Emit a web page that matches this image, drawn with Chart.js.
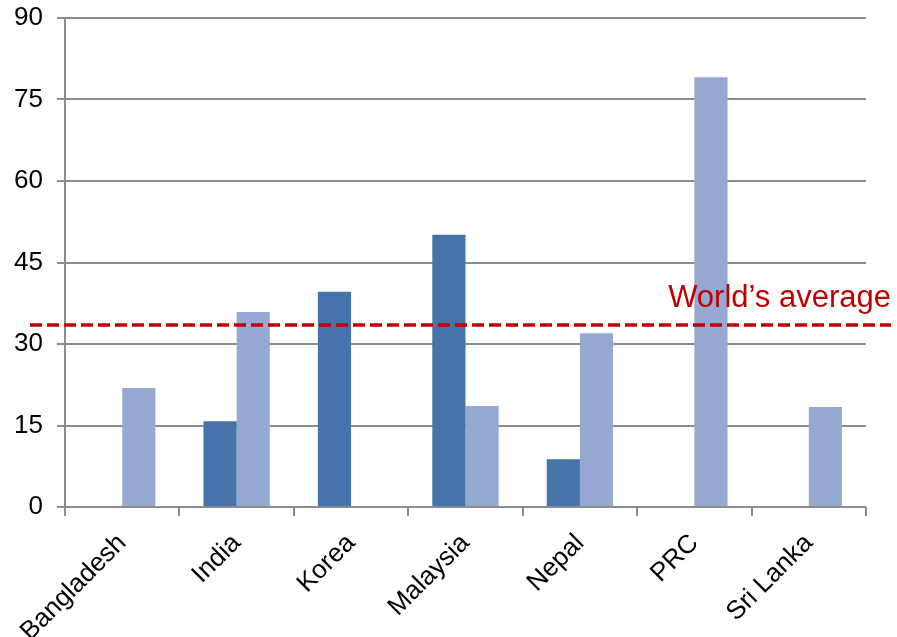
<!DOCTYPE html>
<html>
<head>
<meta charset="utf-8">
<script src="https://cdn.jsdelivr.net/npm/chart.js@4"></script>
<style>
  html, body { margin: 0; padding: 0; background: #fff; }
  #wrap { width: 897px; height: 637px; }
</style>
</head>
<body>
<div id="wrap"><canvas id="chart" width="897" height="637"></canvas></div>
<script>
const countries = ['Bangladesh', 'India', 'Korea', 'Malaysia', 'Nepal', 'PRC', 'Sri Lanka'];
const seriesA = [null, 15.8, 39.6, 50.1, 8.8, null, null];
const seriesB = [21.9, 35.9, null, 18.6, 32.0, 79.1, 18.4];
const yTicks = [0, 15, 30, 45, 60, 75, 90];
const worldAverage = 33.5;
const worldLabel = 'World\u2019s average';

// dashed reference line + its label, placed through the y scale
const averageLine = {
  id: 'averageLine',
  afterDatasetsDraw(chart) {
    let { ctx, chartArea, scales } = chart;
    let y = scales.y.getPixelForValue(worldAverage);
    ctx.save();
    ctx.strokeStyle = '#C00000';
    ctx.lineWidth = 3.5;
    ctx.setLineDash([12, 5]);
    ctx.beginPath();
    ctx.moveTo(chartArea.left - 35, y);
    ctx.lineTo(chartArea.right + 25, y);
    ctx.stroke();
    ctx.setLineDash([]);
    ctx.fillStyle = '#C00000';
    ctx.font = '31px "Liberation Sans", Arial, sans-serif';
    ctx.textAlign = 'right';
    ctx.textBaseline = 'alphabetic';
    ctx.fillText(worldLabel, chartArea.right + 25, y - 18);
    ctx.restore();
  }
};

const tickFont = { family: '"Liberation Sans", Arial, sans-serif', size: 26 };

new Chart(document.getElementById('chart'), {
  type: 'bar',
  data: {
    labels: countries,
    datasets: [
      { data: seriesA, backgroundColor: '#4674AA', borderWidth: 0 },
      { data: seriesB, backgroundColor: '#95A9D2', borderWidth: 0 }
    ]
  },
  options: {
    responsive: false,
    animation: false,
    layout: { padding: { top: 18, right: 31, left: 0, bottom: 0 } },
    datasets: { bar: { categoryPercentage: 0.58, barPercentage: 1 } },
    plugins: { legend: { display: false }, tooltip: { enabled: false } },
    scales: {
      x: {
        grid: { offset: true, drawOnChartArea: false, drawTicks: true, tickLength: 9, color: '#8C8C8C', lineWidth: 2 },
        border: { display: false },
        ticks: { color: '#000', font: tickFont, maxRotation: 45, minRotation: 45, padding: 12 },
        afterFit(scale) {
          scale.height = 130;
          scale.paddingLeft = 0;
          scale.paddingRight = 0;
        }
      },
      y: {
        min: 0,
        max: 90,
        afterBuildTicks(scale) { scale.ticks = yTicks.map(v => ({ value: v })); },
        grid: { color: '#8C8C8C', lineWidth: 2, drawTicks: true, tickLength: 8 },
        border: { display: true, color: '#8C8C8C', width: 2 },
        ticks: { color: '#000', font: tickFont, padding: 14 },
        afterFit(scale) {
          scale.width = 65;
          scale.paddingTop = 0;
          scale.paddingBottom = 0;
        }
      }
    }
  },
  plugins: [averageLine]
});
</script>
</body>
</html>
